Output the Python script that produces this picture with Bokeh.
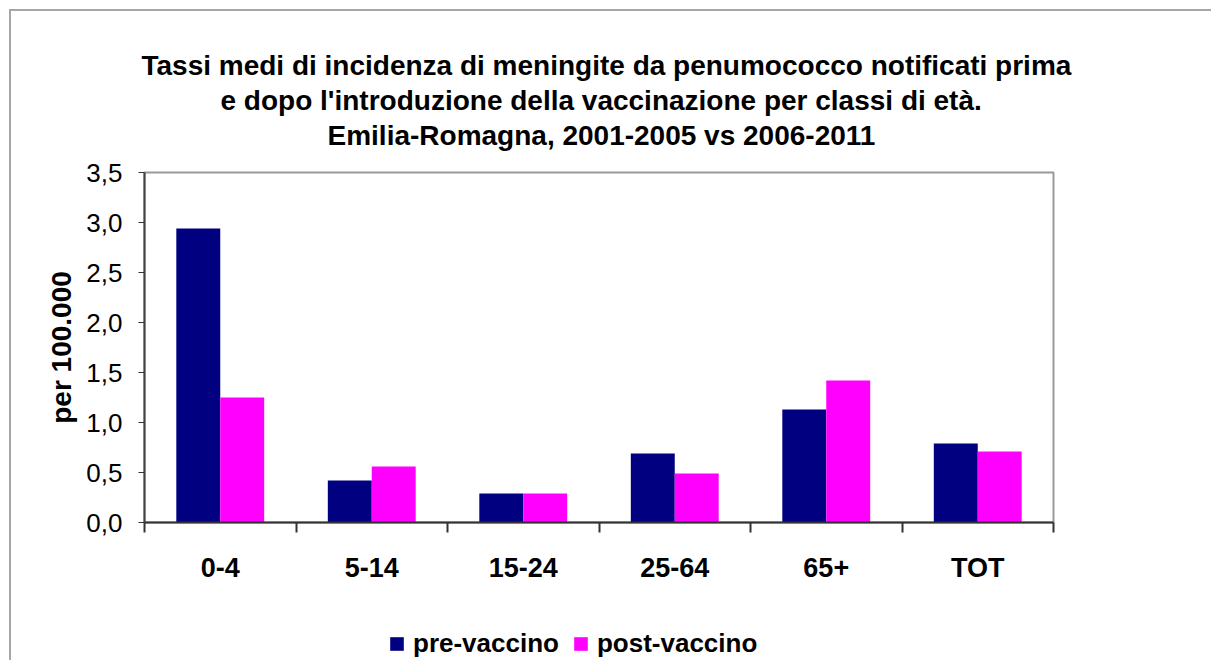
from bokeh.plotting import figure
from bokeh.layouts import column
from bokeh.models import (ColumnDataSource, Range1d, FixedTicker, CustomJSTickFormatter,
                          Title, Legend, LegendItem)
from bokeh.transform import dodge
from bokeh.embed import file_html
from bokeh.resources import INLINE

# ---- data ----
categories = ["0-4", "5-14", "15-24", "25-64", "65+", "TOT"]
pre_vaccino = [2.94, 0.42, 0.29, 0.69, 1.13, 0.79]
post_vaccino = [1.25, 0.56, 0.29, 0.49, 1.42, 0.71]
series_names = ["pre-vaccino", "post-vaccino"]
series_colors = ["#000080", "#FF00FF"]
y_ticks = [0.0, 0.5, 1.0, 1.5, 2.0, 2.5, 3.0, 3.5]
title_lines = [
    "Tassi medi di incidenza di meningite da penumococco notificati prima",
    "e dopo l'introduzione della vaccinazione per classi di età.",
    "Emilia-Romagna, 2001-2005 vs 2006-2011",
]
title_offsets = [-3, 76, 183]   # left offsets of each title line from the plot area

xpos = [i + 0.5 for i in range(len(categories))]
src = ColumnDataSource(dict(x=xpos, cat=categories, pre=pre_vaccino, post=post_vaccino))

FONT = "Liberation Sans"

p = figure(width=1200, height=611, output_backend="svg", toolbar_location=None,
           x_range=Range1d(0, len(categories)), y_range=Range1d(0, 3.5),
           frame_width=909, frame_height=350,
           min_border_left=133, min_border_right=158, min_border_top=161, min_border_bottom=100,
           title=None)

p.background_fill_color = "white"
p.border_fill_color = "white"
p.outline_line_color = "#999999"
p.outline_line_width = 2
p.grid.visible = False

BAR_W = 0.29
r_pre = p.vbar(x=dodge("x", -BAR_W / 2), top="pre", width=BAR_W, source=src,
               fill_color=series_colors[0], line_color=None)
r_post = p.vbar(x=dodge("x", BAR_W / 2), top="post", width=BAR_W, source=src,
                fill_color=series_colors[1], line_color=None)

# y axis
ya = p.yaxis[0]
ya.ticker = FixedTicker(ticks=y_ticks, minor_ticks=[])
ya.formatter = CustomJSTickFormatter(code="return tick.toFixed(1).replace('.', ',');")
ya.axis_label = "per 100.000"
ya.axis_label_text_font = FONT
ya.axis_label_text_font_style = "bold"
ya.axis_label_text_font_size = "28px"
ya.axis_label_text_color = "black"
ya.axis_label_standoff = 6
ya.major_label_text_font = FONT
ya.major_label_text_font_size = "26px"
ya.major_label_text_color = "black"
ya.major_label_standoff = 16
ya.major_tick_in = 0
ya.major_tick_out = 6
ya.major_tick_line_color = "#333333"
ya.axis_line_color = "#444444"
ya.axis_line_width = 2

# x axis: labels at centres, ticks at category boundaries
xa = p.xaxis[0]
xa.ticker = FixedTicker(ticks=xpos, minor_ticks=list(range(len(categories) + 1)))
xa.major_label_overrides = {x: c for x, c in zip(xpos, categories)}
xa.major_label_text_font = FONT
xa.major_label_text_font_style = "bold"
xa.major_label_text_font_size = "27px"
xa.major_label_text_color = "black"
xa.major_label_standoff = 20
xa.major_tick_line_color = None
xa.minor_tick_in = 0
xa.minor_tick_out = 10
xa.minor_tick_line_color = "#333333"
xa.minor_tick_line_width = 2
xa.axis_line_color = "#333333"
xa.axis_line_width = 2

# title: spacer first (nearest to plot), then lines bottom-up
p.add_layout(Title(text=" ", text_font_size="1px", standoff=18), "above")
for line, off in reversed(list(zip(title_lines, title_offsets))):
    p.add_layout(Title(text=line, align="left", offset=off, text_font=FONT,
                       text_font_style="bold", text_font_size="28px",
                       text_color="black", standoff=2), "above")

# legend strip below the chart (proxy bars lie below its visible range)
lg = figure(width=1200, height=38, output_backend="svg", toolbar_location=None,
            x_range=Range1d(0, len(categories)), y_range=Range1d(10, 11),
            x_axis_type=None, y_axis_type=None, min_border=0, title=None)
lg.outline_line_color = None
lg.background_fill_color = "white"
lg.border_fill_color = "white"
items = []
for name, col, field in zip(series_names, series_colors, ["pre", "post"]):
    r = lg.vbar(x="x", top=field, width=BAR_W, source=src, fill_color=col, line_color=None)
    items.append(LegendItem(label=name, renderers=[r]))
legend = Legend(items=items, orientation="horizontal", location=(244, 1),
                label_text_font=FONT, label_text_font_style="bold",
                label_text_font_size="26px", label_text_color="black",
                glyph_width=17, glyph_height=17,
                label_standoff=8, spacing=13, border_line_color=None,
                background_fill_alpha=0, padding=2, margin=0)
lg.add_layout(legend, "center")

layout = column(p, lg, spacing=0)
layout.styles = {"border-top": "2px solid #a6a6a6", "border-left": "2px solid #a6a6a6",
                 "margin-left": "9px", "margin-top": "9px"}

open("out.html", "w").write(file_html(layout, INLINE))
